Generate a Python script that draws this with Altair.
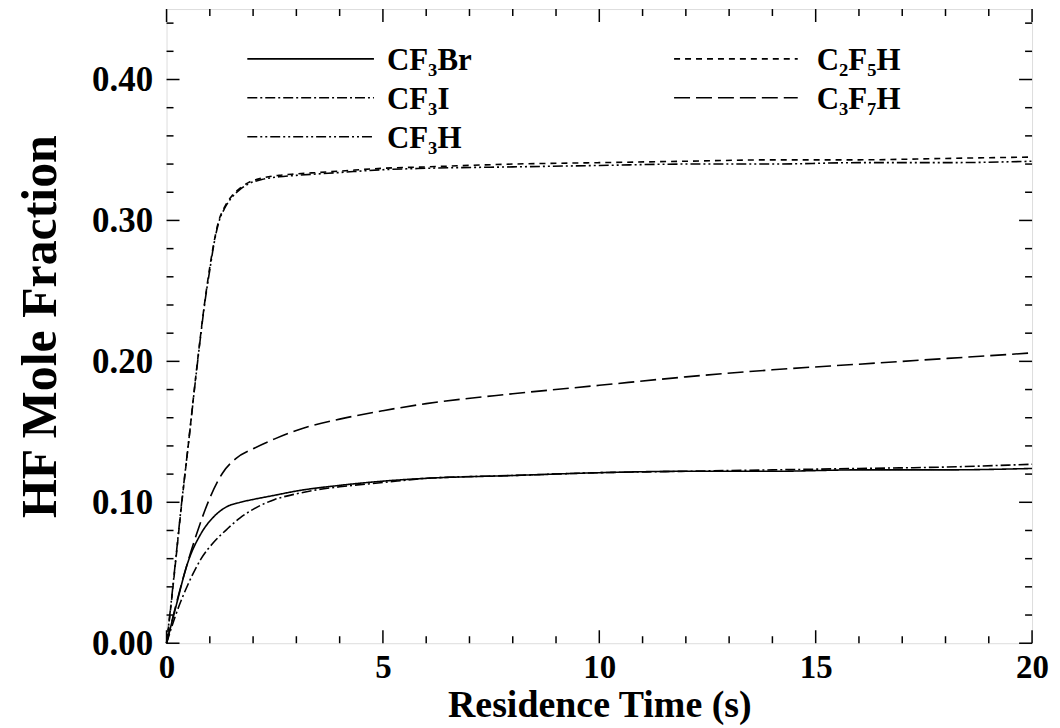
import altair as alt
import pandas as pd

# ---- data ----
species = ["CF\u2083Br", "CF\u2083I", "CF\u2083H", "C\u2082F\u2085H", "C\u2083F\u2087H"]

t_cf3br = [0, 0.2, 0.5, 0.8, 1.1, 1.4, 1.7, 2.0, 2.5, 3, 4, 5, 6, 8, 10, 12, 14, 16, 18, 20]
v_cf3br = [0, 0.024, 0.058, 0.078, 0.090, 0.097, 0.100, 0.102, 0.105, 0.108, 0.112, 0.115,
           0.117, 0.119, 0.121, 0.122, 0.122, 0.123, 0.123, 0.124]

t_cf3i = [0, 0.2, 0.5, 0.8, 1.1, 1.4, 1.7, 2.0, 2.5, 3, 3.5, 4, 5, 6, 8, 10, 12, 14, 16, 18, 20]
v_cf3i = [0, 0.019, 0.042, 0.060, 0.072, 0.081, 0.089, 0.095, 0.102, 0.106, 0.109, 0.111,
          0.114, 0.117, 0.119, 0.121, 0.122, 0.123, 0.124, 0.125, 0.127]

t_cf3h = [0, 0.1, 0.2, 0.35, 0.5, 0.7, 0.9, 1.0, 1.1, 1.2, 1.35, 1.5, 1.7, 1.9, 2.2, 2.6,
          3, 3.5, 4, 5, 6, 8, 10, 12, 14, 16, 18, 20]
v_cf3h = [0, 0.027, 0.056, 0.100, 0.140, 0.195, 0.245, 0.265, 0.284, 0.298, 0.309, 0.316,
          0.322, 0.326, 0.329, 0.331, 0.332, 0.333, 0.334, 0.336, 0.337, 0.338, 0.339,
          0.340, 0.340, 0.341, 0.341, 0.342]

t_c2f5h = t_cf3h
v_c2f5h = [0, 0.026, 0.055, 0.099, 0.140, 0.196, 0.246, 0.267, 0.285, 0.299, 0.310, 0.317,
           0.323, 0.327, 0.330, 0.332, 0.333, 0.334, 0.335, 0.337, 0.338, 0.340, 0.341,
           0.342, 0.343, 0.343, 0.344, 0.345]

t_c3f7h = [0, 0.2, 0.4, 0.7, 1.0, 1.3, 1.6, 2.0, 2.5, 3, 4, 5, 6, 8, 10, 12, 14, 16, 18, 20]
v_c3f7h = [0, 0.025, 0.048, 0.078, 0.103, 0.121, 0.131, 0.138, 0.145, 0.151, 0.159, 0.165,
           0.170, 0.177, 0.183, 0.189, 0.194, 0.198, 0.202, 0.206]

x_major = [0, 5, 10, 15, 20]
x_minor = [i for i in range(21) if i % 5 != 0]
y_major = [0.0, 0.1, 0.2, 0.3, 0.4]
y_minor = [0.02, 0.04, 0.06, 0.08, 0.12, 0.14, 0.16, 0.18, 0.22, 0.24, 0.26, 0.28,
           0.32, 0.34, 0.36, 0.38, 0.42, 0.44]

series = [
    (t_cf3br, v_cf3br),
    (t_cf3i, v_cf3i),
    (t_cf3h, v_cf3h),
    (t_c2f5h, v_c2f5h),
    (t_c3f7h, v_c3f7h),
]
rows = []
for name, (ts, vs) in zip(species, series):
    for t, v in zip(ts, vs):
        rows.append({"species": name, "t": t, "v": v})
df = pd.DataFrame(rows)

W, H = 868, 636
FONT = "Liberation Serif"

xs = alt.Scale(domain=[0, 20], nice=False, zero=False)
ys = alt.Scale(domain=[0, 0.45], nice=False, zero=False)

dashes = [[1, 0], [10, 3, 2, 3], [10, 3, 2, 3, 2, 3], [6, 5], [16, 6]]

lines = alt.Chart(df).mark_line(strokeWidth=1.6, color="black", interpolate="monotone").encode(
    x=alt.X("t:Q", scale=xs,
            axis=alt.Axis(values=x_major, title="Residence Time (s)", ticks=False, domain=False,
                          grid=False, labelFont=FONT, labelFontWeight="bold", labelFontSize=33,
                          labelPadding=8, labelColor="black", titleFont=FONT,
                          titleFontWeight="bold", titleFontSize=38, titlePadding=2,
                          titleColor="black", labelFlush=False)),
    y=alt.Y("v:Q", scale=ys,
            axis=alt.Axis(values=y_major, format=".2f", title="HF Mole Fraction", ticks=False,
                          domain=False, grid=False, labelFont=FONT, labelFontWeight="bold",
                          labelFontSize=35, labelPadding=14, labelColor="black",
                          titleFont=FONT, titleFontWeight="bold", titleFontSize=50,
                          titlePadding=26, titleColor="black", labelFlush=False)),
    strokeDash=alt.StrokeDash("species:N", scale=alt.Scale(domain=species, range=dashes),
                              legend=None),
    detail="species:N",
)

# ---- manual legend (two columns, inside the plot) ----
leg_layers = []
for i, name in enumerate(species):
    col, row = (0, i) if i < 3 else (1, i - 3)
    x1 = 81 if col == 0 else 509
    x2 = 208 if col == 0 else 633
    tx = 221 if col == 0 else 652
    yy = 50 + row * 39
    d = pd.DataFrame({"species": [name]})
    leg_layers.append(
        alt.Chart(d).mark_rule(color="black", strokeWidth=1.6, strokeDash=dashes[i]).encode(
            x=alt.value(x1), x2=alt.value(x2), y=alt.value(yy)))
    leg_layers.append(
        alt.Chart(d).mark_text(font=FONT, fontWeight="bold", fontSize=31, align="left",
                               baseline="middle", color="black").encode(
            x=alt.value(tx), y=alt.value(yy + 2), text="species:N"))

xmaj = pd.DataFrame({"t": x_major})
xmin = pd.DataFrame({"t": x_minor})
ymaj = pd.DataFrame({"v": y_major})
ymin = pd.DataFrame({"v": y_minor})


def xt(d, y1, y2):
    return alt.Chart(d).mark_rule(color="black", strokeWidth=1.5).encode(
        x=alt.X("t:Q", scale=xs), y=alt.value(y1), y2=alt.value(y2))


def yt(d, x1, x2):
    return alt.Chart(d).mark_rule(color="black", strokeWidth=1.5).encode(
        y=alt.Y("v:Q", scale=ys), x=alt.value(x1), x2=alt.value(x2))


ticks = [
    xt(xmaj, H, H - 13), xt(xmin, H, H - 7), xt(xmaj, 0, 13), xt(xmin, 0, 7),
    yt(ymaj, 0, 13), yt(ymin, 0, 7), yt(ymaj, W, W - 13), yt(ymin, W, W - 7),
]

chart = alt.layer(lines, *ticks, *leg_layers).properties(
    width=W, height=H,
    autosize=alt.AutoSizeParams(type="none"),
    padding={"left": 159, "top": 0, "right": 20, "bottom": 90},
).configure_view(stroke="black", strokeWidth=3).configure(background="white")

chart.save("out.html", embed_options={"renderer": "svg", "actions": False})
